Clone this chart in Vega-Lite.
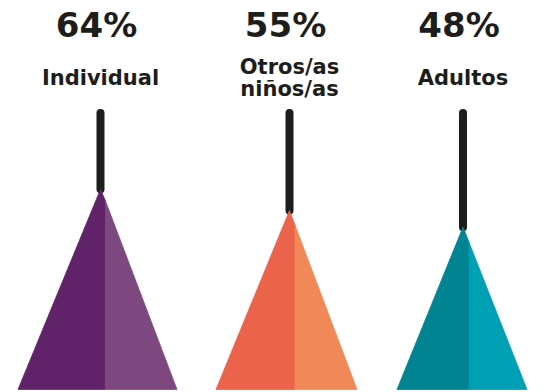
{
  "$schema": "https://vega.github.io/schema/vega-lite/v6.json",
  "width": 544,
  "height": 392,
  "autosize": {"type": "fit", "contains": "padding"},
  "padding": 0,
  "background": "white",
  "config": {"view": {"stroke": null}},
  "datasets": {
    "shape": [
      {"group": "Individual", "part": "Individual-L", "x": 18, "y": -20.6},
      {"group": "Individual", "part": "Individual-L", "x": 100.5, "y": 64},
      {"group": "Individual", "part": "Individual-L", "x": 105.5, "y": 59.0},
      {"group": "Individual", "part": "Individual-R", "x": 105.5, "y": 59.0},
      {"group": "Individual", "part": "Individual-R", "x": 177, "y": -20.6},
      {"group": "Otros", "part": "Otros-L", "x": 216, "y": -20.6},
      {"group": "Otros", "part": "Otros-L", "x": 289.5, "y": 55},
      {"group": "Otros", "part": "Otros-L", "x": 295, "y": 48.9},
      {"group": "Otros", "part": "Otros-R", "x": 295, "y": 48.9},
      {"group": "Otros", "part": "Otros-R", "x": 357, "y": -20.6},
      {"group": "Adultos", "part": "Adultos-L", "x": 397, "y": -20.6},
      {"group": "Adultos", "part": "Adultos-L", "x": 463, "y": 48},
      {"group": "Adultos", "part": "Adultos-L", "x": 469, "y": 41.6},
      {"group": "Adultos", "part": "Adultos-R", "x": 469, "y": 41.6},
      {"group": "Adultos", "part": "Adultos-R", "x": 527, "y": -20.6}
    ],
    "groups": [
      {"group": "Individual", "label": "Individual", "lines": 1, "pct": "64%", "value": 64, "cx": 100.5},
      {"group": "Otros", "label": "Otros/as\nniños/as", "lines": 2, "pct": "55%", "value": 55, "cx": 289.5},
      {"group": "Adultos", "label": "Adultos", "lines": 1, "pct": "48%", "value": 48, "cx": 463}
    ]
  },
  "layer": [
    {
      "data": {"name": "groups"},
      "mark": {"type": "rule", "strokeWidth": 8, "strokeCap": "round", "color": "#1d1d1b"},
      "encoding": {
        "x": {"field": "cx", "type": "quantitative", "scale": {"domain": [0, 544], "nice": false, "zero": false}, "axis": null},
        "y": {"field": "value", "type": "quantitative", "scale": {"domain": [-20.84, 144], "nice": false, "zero": false}, "axis": null},
        "y2": {"datum": 96.2}
      }
    },
    {
      "data": {"name": "shape"},
      "mark": {"type": "area", "interpolate": "linear", "opacity": 1, "strokeWidth": 0.8},
      "encoding": {
        "x": {"field": "x", "type": "quantitative", "axis": null},
        "y": {"field": "y", "type": "quantitative", "stack": null, "axis": null},
        "y2": {"datum": -20.6},
        "color": {
          "field": "part",
          "type": "nominal",
          "legend": null,
          "scale": {
            "domain": ["Individual-L", "Individual-R", "Otros-L", "Otros-R", "Adultos-L", "Adultos-R"],
            "range": ["#602268", "#7d4880", "#eb634a", "#f08858", "#008491", "#00a0b4"]
          }
        },
        "stroke": {
          "field": "part",
          "type": "nominal",
          "legend": null,
          "scale": {
            "domain": ["Individual-L", "Individual-R", "Otros-L", "Otros-R", "Adultos-L", "Adultos-R"],
            "range": ["#602268", "#7d4880", "#eb634a", "#f08858", "#008491", "#00a0b4"]
          }
        }
      }
    },
    {
      "data": {"name": "groups"},
      "mark": {"type": "text", "font": "DejaVu Sans", "fontWeight": "bold", "fontSize": 34, "align": "center", "baseline": "middle", "dx": -4, "color": "#1d1d1b"},
      "encoding": {
        "x": {"field": "cx", "type": "quantitative"},
        "y": {"datum": 132.6},
        "text": {"field": "pct", "type": "nominal"}
      }
    },
    {
      "data": {"name": "groups"},
      "transform": [{"filter": "datum.lines == 1"}],
      "mark": {"type": "text", "font": "DejaVu Sans", "fontWeight": "bold", "fontSize": 21, "align": "center", "baseline": "middle", "color": "#1d1d1b"},
      "encoding": {
        "x": {"field": "cx", "type": "quantitative"},
        "y": {"datum": 110.7},
        "text": {"field": "label", "type": "nominal"}
      }
    },
    {
      "data": {"name": "groups"},
      "transform": [{"filter": "datum.lines == 2"}],
      "mark": {"type": "text", "font": "DejaVu Sans", "fontWeight": "bold", "fontSize": 21, "align": "center", "baseline": "middle", "lineBreak": "\n", "lineHeight": 22, "color": "#1d1d1b"},
      "encoding": {
        "x": {"field": "cx", "type": "quantitative"},
        "y": {"datum": 115.4},
        "text": {"field": "label", "type": "nominal"}
      }
    }
  ]
}
